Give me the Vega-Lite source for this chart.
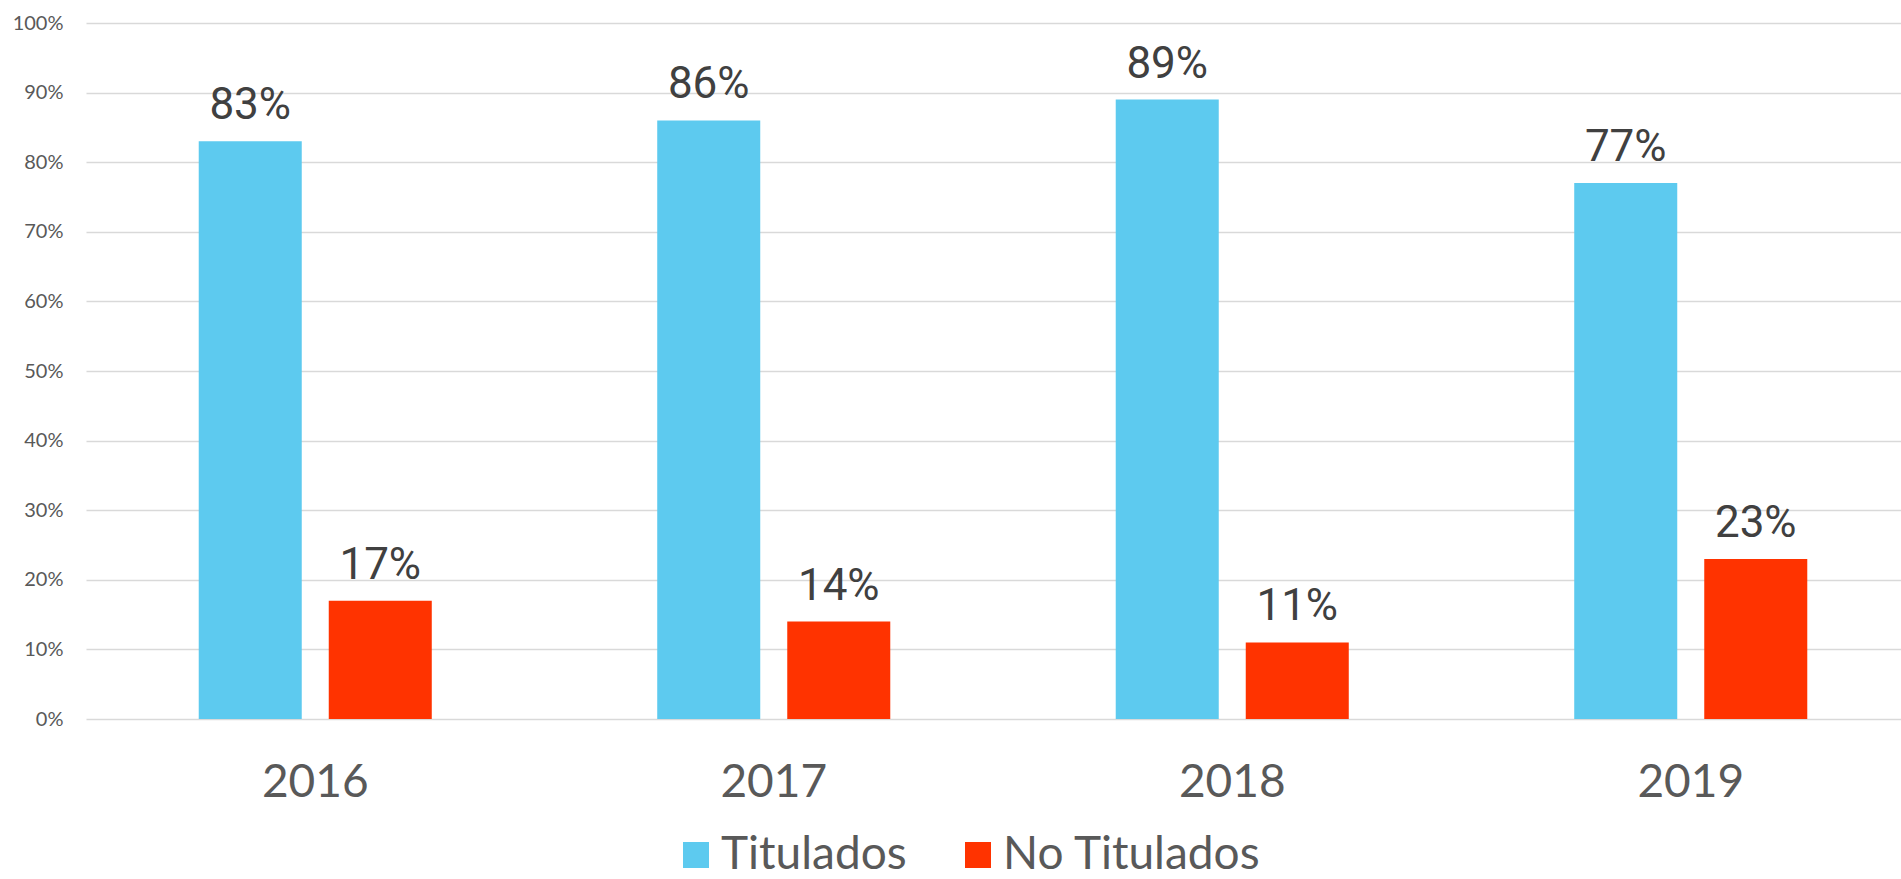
{
  "$schema": "https://vega.github.io/schema/vega-lite/v6.json",
  "width": 1815,
  "height": 696,
  "autosize": {"type": "none"},
  "padding": {"left": 86, "top": 23, "right": 0, "bottom": 160},
  "background": "white",
  "config": {"view": {"stroke": null}},
  "data": {
    "values": [
      {"year": "2016", "serie": "Titulados", "value": 0.83},
      {"year": "2016", "serie": "No Titulados", "value": 0.17},
      {"year": "2017", "serie": "Titulados", "value": 0.86},
      {"year": "2017", "serie": "No Titulados", "value": 0.14},
      {"year": "2018", "serie": "Titulados", "value": 0.89},
      {"year": "2018", "serie": "No Titulados", "value": 0.11},
      {"year": "2019", "serie": "Titulados", "value": 0.77},
      {"year": "2019", "serie": "No Titulados", "value": 0.23}
    ]
  },
  "encoding": {
    "x": {
      "field": "year",
      "type": "nominal",
      "scale": {"range": [0, 1834], "paddingInner": 0, "paddingOuter": 0},
      "axis": {
        "title": null,
        "labelAngle": 0,
        "labelFont": "Lato",
        "labelFontSize": 46,
        "labelColor": "#595959",
        "ticks": false,
        "tickSize": 0,
        "domain": false,
        "grid": false,
        "labelPadding": 41
      }
    },
    "xOffset": {
      "field": "serie",
      "type": "nominal",
      "sort": ["Titulados", "No Titulados"],
      "scale": {"paddingInner": 0.2077, "paddingOuter": 0.867}
    },
    "y": {
      "field": "value",
      "type": "quantitative",
      "scale": {"domain": [0, 1]},
      "axis": {
        "title": null,
        "values": [0, 0.1, 0.2, 0.3, 0.4, 0.5, 0.6, 0.7, 0.8, 0.9, 1],
        "format": ".0%",
        "labelFont": "Lato",
        "labelFontSize": 20,
        "labelColor": "#595959",
        "ticks": false,
        "domain": false,
        "labelPadding": 23,
        "gridColor": "#D9D9D9",
        "gridWidth": 1.5
      }
    }
  },
  "layer": [
    {
      "mark": {"type": "bar"},
      "encoding": {
        "color": {
          "field": "serie",
          "type": "nominal",
          "scale": {"domain": ["Titulados", "No Titulados"], "range": ["#5DCAEF", "#FF3300"]},
          "legend": {
            "orient": "none",
            "legendX": 587,
            "legendY": 809,
            "direction": "horizontal",
            "title": null,
            "symbolType": "square",
            "symbolSize": 676,
            "symbolStrokeWidth": 0,
            "symbolOpacity": 1,
            "labelFont": "Lato",
            "labelFontSize": 46,
            "labelColor": "#595959",
            "labelOffset": 2,
            "columnPadding": 48,
            "labelLimit": 400
          }
        }
      }
    },
    {
      "mark": {
        "type": "text",
        "dy": -22,
        "baseline": "alphabetic",
        "font": "Roboto",
        "fontSize": 44,
        "color": "#404040"
      },
      "encoding": {
        "text": {"field": "value", "type": "quantitative", "format": ".0%"}
      }
    }
  ]
}
